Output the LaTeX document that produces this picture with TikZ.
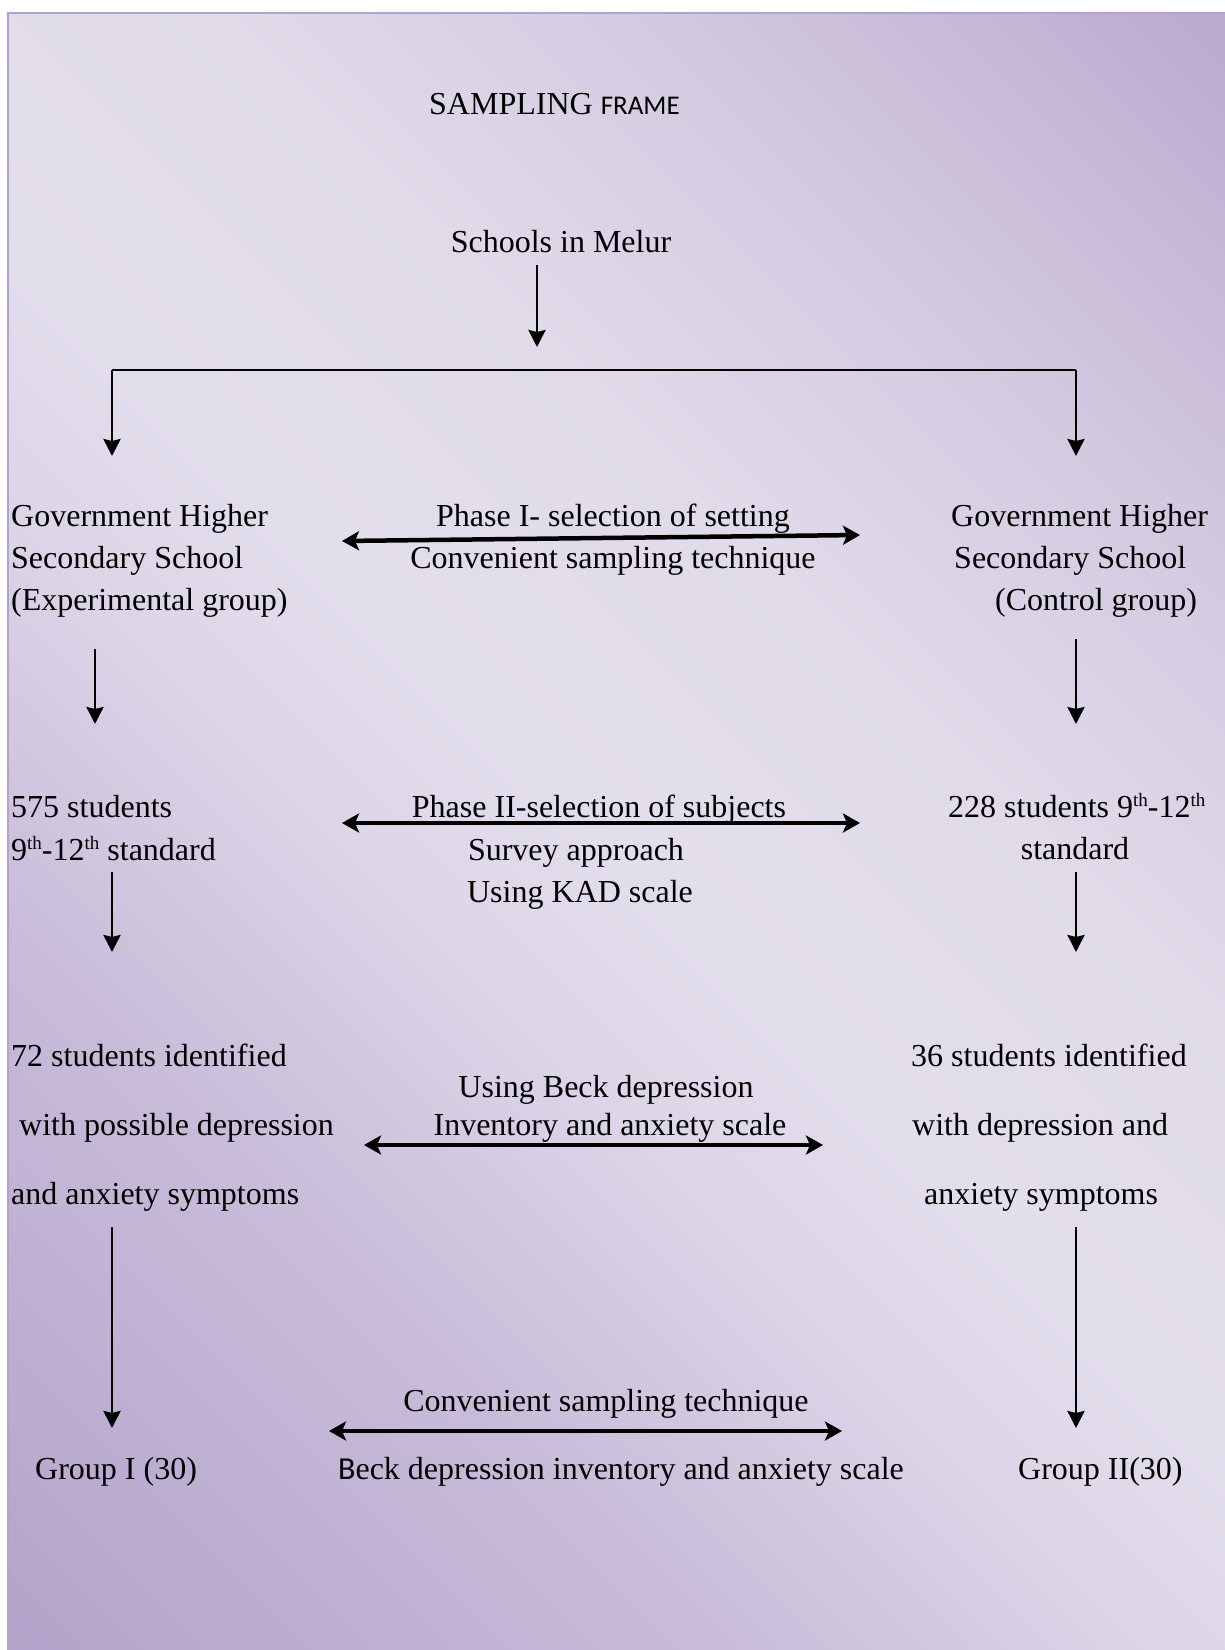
\documentclass[tikz,border=0pt]{standalone}
\usepackage{fontspec}
\setmainfont{Liberation Serif}
\newfontfamily\calibfont{Carlito}
\usetikzlibrary{arrows.meta}
\definecolor{bgA}{HTML}{B3A3CA}
\definecolor{bgB}{HTML}{C8BCD9}
\definecolor{bgC}{HTML}{DCD5E7}
\definecolor{bgD}{HTML}{E3DEEC}
\definecolor{bgE}{HTML}{E0DAE9}
\definecolor{bgF}{HTML}{D3CAE0}
\definecolor{bgG}{HTML}{BCA9CF}
\definecolor{bordercol}{HTML}{B1A2CE}
\pgfdeclarehorizontalshading{bgshade}{100bp}{color(0bp)=(bgA); color(14.6bp)=(bgA); color(32.3bp)=(bgB); color(42.9bp)=(bgC); color(50bp)=(bgD); color(60.6bp)=(bgE); color(71.2bp)=(bgF); color(85.4bp)=(bgG); color(100bp)=(bgG)}
\newcommand{\supth}{\raisebox{11pt}{\fontsize{19}{19}\selectfont th}}
\tikzset{
  txt/.style={inner sep=0pt, font=\fontsize{32}{38}\selectfont},
  varrow/.style={line width=2.8pt, -{Stealth[length=17pt,width=17pt,inset=2pt]}},
  harrow/.style={line width=4.5pt, {Stealth[length=17pt,width=19pt,inset=4pt]}-{Stealth[length=17pt,width=19pt,inset=4pt]}},
  thinline/.style={line width=1.4pt},
}
\begin{document}
\begin{tikzpicture}[x=1pt,y=-1pt]
\useasboundingbox (0,0) rectangle (1225,1650);
\fill[white] (0,0) rectangle (1225,1650);
\shade[shading=bgshade, shading angle=45] (9,14) rectangle (1225,1650);
\draw[bordercol, line width=2.2pt] (8.3,1650) -- (8.3,12.8) -- (1225,12.8);

% title and top
\node[txt, anchor=base west] (title) at (429,114) {SAMPLING {\calibfont\fontsize{27}{30}\selectfont FRAME}};
\node[txt, anchor=base] (schools) at (561,252) {Schools in Melur};

% row 1
\node[txt, anchor=base west] (g1a) at (11,526) {Government Higher};
\node[txt, anchor=base west] (g1b) at (11,568) {Secondary School};
\node[txt, anchor=base west] (g1c) at (11,610) {(Experimental group)};
\node[txt, anchor=base] (p1a) at (613,526) {Phase I- selection of setting};
\node[txt, anchor=base] (p1b) at (613,568) {Convenient sampling technique};
\node[txt, anchor=base west] (g2a) at (951,526) {Government Higher};
\node[txt, anchor=base west] (g2b) at (954,568) {Secondary School};
\node[txt, anchor=base west] (g2c) at (995,610) {(Control group)};

% row 2
\node[txt, anchor=base west] (n1a) at (11,817) {575 students};
\node[txt, anchor=base west] (n1b) at (11,860) {9\supth-12\supth{} standard};
\node[txt, anchor=base] (p2a) at (599,817) {Phase II-selection of subjects};
\node[txt, anchor=base] (p2b) at (576,860) {Survey approach};
\node[txt, anchor=base] (p2c) at (580,902) {Using KAD scale};
\node[txt, anchor=base west] (n2a) at (948,817) {228 students 9\supth-12\supth};
\node[txt, anchor=base] (n2b) at (1075,859) {standard};

% row 3
\node[txt, anchor=base west] (m1a) at (11,1066) {72 students identified};
\node[txt, anchor=base west] (m1b) at (19,1135) {with possible depression};
\node[txt, anchor=base west] (m1c) at (11,1204) {and anxiety symptoms};
\node[txt, anchor=base] (p3a) at (606,1097) {Using Beck depression};
\node[txt, anchor=base] (p3b) at (610,1135) {Inventory and anxiety scale};
\node[txt, anchor=base west] (m2a) at (911,1066) {36 students identified};
\node[txt, anchor=base west] (m2b) at (912,1135) {with depression and};
\node[txt, anchor=base west] (m2c) at (924,1204) {anxiety symptoms};

% row 4
\node[txt, anchor=base] (p4a) at (606,1411) {Convenient sampling technique};
\node[txt, anchor=base west] (q1) at (35,1479) {Group I (30)};
\node[txt, anchor=base] (p4b) at (621,1479) {{\calibfont B}eck depression inventory and anxiety scale};
\node[txt, anchor=base west] (q2) at (1018,1479) {Group II(30)};

% connector coordinates
\coordinate (s1) at (537,265);
\coordinate (s2) at (537,347);
\coordinate (bl) at (112,370);
\coordinate (br) at (1076,370);
\coordinate (bl2) at (112,456);
\coordinate (br2) at (1076,456);
\coordinate (a1s) at (95,649);
\coordinate (a1e) at (95,724);
\coordinate (b1s) at (1076,639);
\coordinate (b1e) at (1076,724);
\coordinate (a2s) at (112,872);
\coordinate (a2e) at (112,952);
\coordinate (b2s) at (1076,872);
\coordinate (b2e) at (1076,952);
\coordinate (a3s) at (112,1227);
\coordinate (a3e) at (112,1428);
\coordinate (b3s) at (1076,1227);
\coordinate (b3e) at (1076,1428);
\coordinate (h1l) at (342,541);
\coordinate (h1r) at (860,535);
\coordinate (h2l) at (342,823);
\coordinate (h2r) at (860,823);
\coordinate (h3l) at (364,1145);
\coordinate (h3r) at (823,1145);
\coordinate (h4l) at (329,1431);
\coordinate (h4r) at (842,1431);

% connectors
\draw[varrow] (s1) -- (s2);
\draw[thinline] (bl) -- (br);
\draw[varrow] (bl) -- (bl2);
\draw[varrow] (br) -- (br2);
\draw[varrow] (a1s) -- (a1e);
\draw[varrow] (b1s) -- (b1e);
\draw[varrow] (a2s) -- (a2e);
\draw[varrow] (b2s) -- (b2e);
\draw[varrow] (a3s) -- (a3e);
\draw[varrow] (b3s) -- (b3e);
\draw[harrow] (h1l) -- (h1r);
\draw[harrow] (h2l) -- (h2r);
\draw[harrow] (h3l) -- (h3r);
\draw[harrow] (h4l) -- (h4r);
\end{tikzpicture}
\end{document}
